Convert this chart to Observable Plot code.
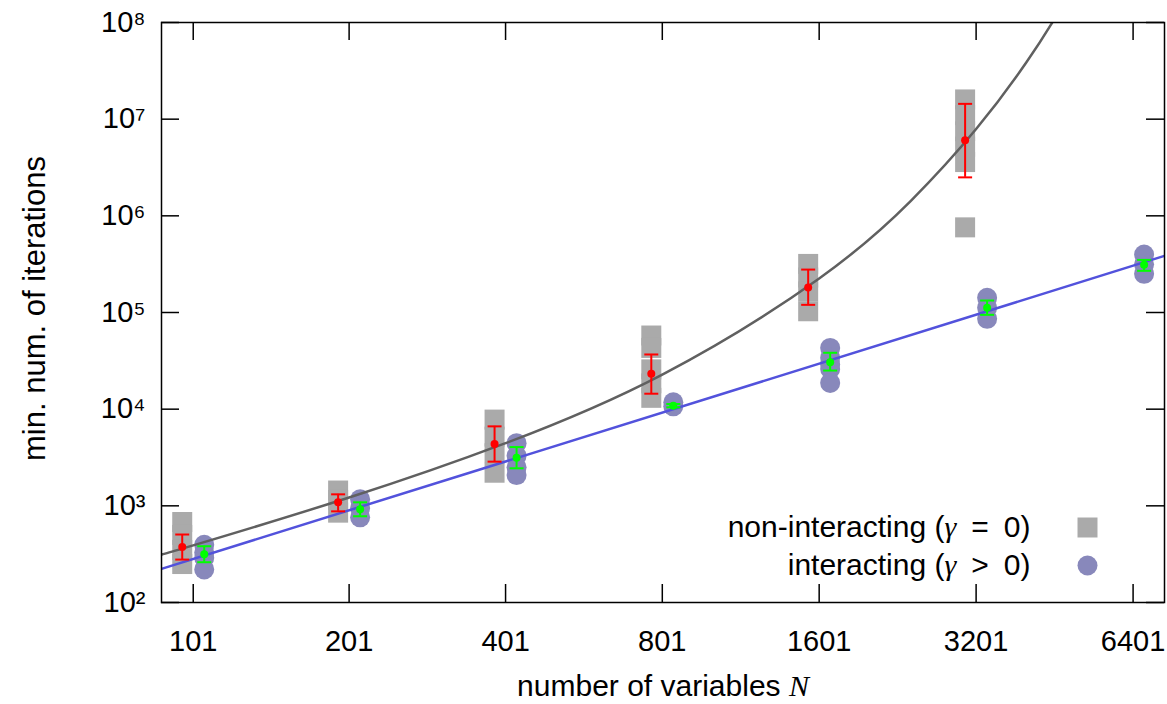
<!DOCTYPE html>
<html><head><meta charset="utf-8">
<script src="https://cdn.jsdelivr.net/npm/d3@7"></script>
<script src="https://cdn.jsdelivr.net/npm/@observablehq/plot@0.6"></script>
<style>
html,body{margin:0;padding:0;background:#fff;}
#chart svg{display:block;}
</style></head><body><div id="chart"></div>
<script>
// ---- data ----
const xTicks = [101, 201, 401, 801, 1601, 3201, 6401];
const yTicks = [1e2, 1e3, 1e4, 1e5, 1e6, 1e7, 1e8];
const yTickLabels = ["10²", "10³", "10⁴", "10⁵", "10⁶", "10⁷", "10⁸"];

// non-interacting (gamma = 0) individual runs
const grayN = [101,101,101,101, 201,201,201, 401,401,401,401, 801,801,801,801,801, 1601,1601,1601,1601, 3201,3201,3201,3201,3201,3201];
const grayV = [680,500,350,250, 1440,1150,850, 7800,5200,3500,2200, 57800,43000,25800,18500,13100, 318000,230000,165000,103000, 16000000,11000000,7500000,5200000,3600000,760000];

// interacting (gamma > 0) individual runs
const blueN = [101,101,101,101, 201,201,201, 401,401,401,401, 801,801, 1601,1601,1601,1601,1601, 3201,3201,3201, 6401,6401,6401];
const blueV = [395,330,290,220, 1170,950,760, 4450,3300,2500,2080, 11800,10700, 43000,34000,29000,26000,18700, 142000,112000,86000, 397000,315000,251000];

// means with error bars
const redN = [101, 201, 401, 801, 1601, 3201];
const redMean = [376, 1087, 4355, 23200, 181000, 6050000];
const redLo = [278, 877, 2865, 14450, 120000, 2500000];
const redHi = [505, 1315, 6640, 36800, 278000, 14400000];

const greenN = [101, 201, 401, 801, 1601, 3201, 6401];
const greenMean = [315, 920, 3150, 10870, 30600, 111700, 311000];
const greenLo = [261, 780, 2445, 10450, 25100, 94600, 270000];
const greenHi = [382, 1087, 4055, 11300, 38300, 133000, 350000];

// fitted curves
const grayFitN = [88, 101, 201, 401, 801, 1601, 2400, 3201, 4000, 4480, 4600];
const grayFitV = [315, 390, 1220, 4450, 22800, 225000, 1430000, 7900000, 39000000, 100000000, 126000000];
const blueFitN = [87.8, 7353];
const blueFitV = [223, 385000];

const legendLabels = ["non-interacting (γ\u2002=\u20020)", "interacting (γ\u2002>\u20020)"];
const xTitle = "number of variables N";
const yTitle = "min. num. of iterations";

// ---- tables ----
const grayData = grayN.map((n, i) => ({N: n, v: grayV[i]}));
const blueData = blueN.map((n, i) => ({N: n, v: blueV[i]}));
const redData = redN.map((n, i) => ({N: n, mean: redMean[i], lo: redLo[i], hi: redHi[i]}));
const greenData = greenN.map((n, i) => ({N: n, mean: greenMean[i], lo: greenLo[i], hi: greenHi[i]}));
const grayFit = grayFitN.map((n, i) => ({N: n, v: grayFitV[i]}));
const blueFit = blueFitN.map((n, i) => ({N: n, v: blueFitV[i]}));

// ---- layout ----
const W = 1167, H = 704;
const mL = 161, mR = 3, mT = 22, mB = 102;
const frameH = H - mT - mB, frameW = W - mL - mR;
const tickLen = 18;
const FS = 29;
const off = 11;

const GRAY = "#aaaaaa", BLUE = "#8888bb";
const capSymbol = {draw(ctx, size) { const w = Math.sqrt(size / Math.PI); ctx.moveTo(-w, 0); ctx.lineTo(w, 0); }};

function errMarks(data, color, dx) {
  return [
    Plot.ruleX(data, {x: "N", y1: "lo", y2: "hi", dx, stroke: color, strokeWidth: 2}),
    Plot.dot(data, {x: "N", y: "lo", dx, symbol: capSymbol, r: 7, stroke: color, strokeWidth: 2, fill: "none"}),
    Plot.dot(data, {x: "N", y: "hi", dx, symbol: capSymbol, r: 7, stroke: color, strokeWidth: 2, fill: "none"}),
    Plot.dot(data, {x: "N", y: "mean", dx, r: 4, fill: color})
  ];
}

const chart = Plot.plot({
  width: W, height: H,
  marginLeft: mL, marginRight: mR, marginTop: mT, marginBottom: mB,
  style: {fontFamily: "'Liberation Sans', Arial, sans-serif", fontSize: FS + "px", color: "black", background: "white"},
  x: {type: "log", domain: [87.8, 7353], axis: null},
  y: {type: "log", domain: [1e2, 1e8], axis: null},
  marks: [
    Plot.dot(grayData, {x: "N", y: "v", dx: -off, symbol: "square", r: 20 / Math.sqrt(Math.PI), fill: GRAY}),
    Plot.dot(blueData, {x: "N", y: "v", dx: off, r: 10, fill: BLUE}),
    Plot.line(grayFit, {x: "N", y: "v", stroke: "#606060", strokeWidth: 2.5, curve: "natural", clip: true}),
    Plot.line(blueFit, {x: "N", y: "v", stroke: "#5252dc", strokeWidth: 2.5, clip: true}),
    ...errMarks(redData, "#ff0000", -off),
    ...errMarks(greenData, "#00ff00", off),
    Plot.frame({stroke: "black", strokeWidth: 1.5}),
    Plot.tickX(xTicks, {x: d => d, insetTop: frameH - tickLen, stroke: "black", strokeWidth: 1.5}),
    Plot.tickX(xTicks, {x: d => d, insetBottom: frameH - tickLen, stroke: "black", strokeWidth: 1.5}),
    Plot.tickY(yTicks, {y: d => d, insetRight: frameW - tickLen, stroke: "black", strokeWidth: 1.5}),
    Plot.tickY(yTicks, {y: d => d, insetLeft: frameW - tickLen, stroke: "black", strokeWidth: 1.5}),
    Plot.text(xTicks, {x: d => d, text: d => String(d), frameAnchor: "bottom", lineAnchor: "top", dy: 28}),
    Plot.text(yTicks, {y: d => d, text: d => yTickLabels[yTicks.indexOf(d)], frameAnchor: "left", textAnchor: "end", dx: -16}),
    Plot.text([yTitle], {x: null, y: null, text: d => d, frameAnchor: "left", textAnchor: "middle", lineAnchor: "middle", dx: -126, dy: -4, rotate: -90, fontSize: 31}),
    Plot.text([xTitle], {x: null, y: null, text: d => d, frameAnchor: "bottom", lineAnchor: "middle", dy: 84, fontSize: 30}),
    Plot.text([legendLabels[0]], {x: null, y: null, text: d => d, frameAnchor: "bottom-right", dx: -134, dy: -75, textAnchor: "end", lineAnchor: "middle", fontSize: 30}),
    Plot.text([legendLabels[1]], {x: null, y: null, text: d => d, frameAnchor: "bottom-right", dx: -134, dy: -37, textAnchor: "end", lineAnchor: "middle", fontSize: 30}),
    Plot.dot([0], {x: null, y: null, frameAnchor: "bottom-right", dx: -77, dy: -75, symbol: "square", r: 20 / Math.sqrt(Math.PI), fill: GRAY}),
    Plot.dot([0], {x: null, y: null, frameAnchor: "bottom-right", dx: -77, dy: -37, r: 10, fill: BLUE})
  ]
});

// italic math symbols (γ, N)
const NS = "http://www.w3.org/2000/svg";
function rich(t, parts) {
  while (t.firstChild) t.removeChild(t.firstChild);
  for (const [s, italic] of parts) {
    const sp = document.createElementNS(NS, "tspan");
    sp.textContent = s;
    if (italic) { sp.setAttribute("font-style", "italic"); sp.setAttribute("font-family", "'Liberation Serif', 'DejaVu Serif', serif"); }
    t.appendChild(sp);
  }
}
chart.querySelectorAll("text").forEach(t => {
  const s = t.textContent;
  if (s === xTitle) rich(t, [["number of variables ", false], ["N", true]]);
  else if (s.includes("γ")) {
    const k = s.indexOf("γ");
    rich(t, [[s.slice(0, k), false], ["γ", true], [s.slice(k + 1), false]]);
  }
});
document.getElementById("chart").appendChild(chart);
</script>
</body></html>
